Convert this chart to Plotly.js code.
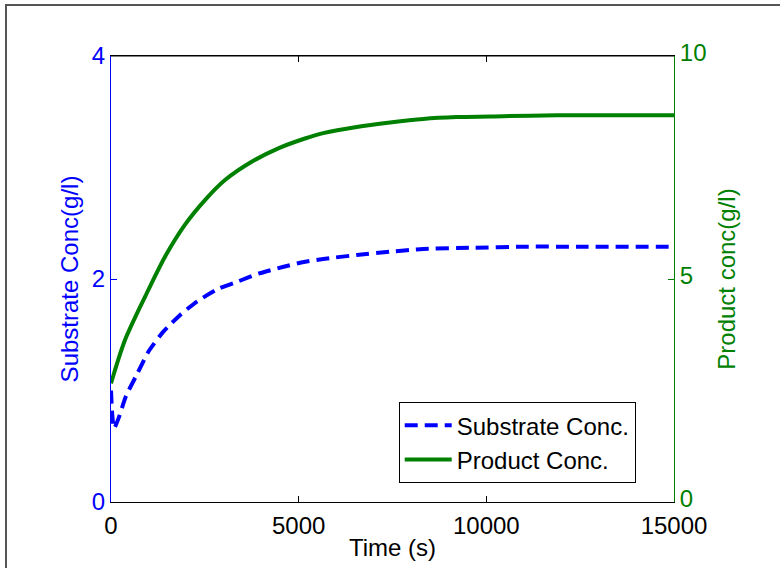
<!DOCTYPE html>
<html>
<head>
<meta charset="utf-8">
<script src="https://cdn.plot.ly/plotly-3.0.1.min.js"></script>
<style>
  html, body { margin: 0; padding: 0; background: #fff; }
  #wrap { position: relative; width: 780px; height: 568px; overflow: hidden; }
  #chart { width: 780px; height: 568px; }
  #frame { position: absolute; left: 5px; top: 4px; width: 780px; height: 570px;
           border-top: 2px solid #555; border-left: 2px solid #555; pointer-events: none; }
</style>
</head>
<body>
<div id="wrap">
  <div id="chart"></div>
  <div id="frame"></div>
</div>
<script>
// Time (s)
const substrateTime = [0, 30, 80, 200, 400, 700, 1000, 1400, 1850, 2300, 2850, 3400, 3950, 4600, 5100, 5656, 6546, 7433, 8320, 9650, 10975, 12500, 15000];
// Substrate concentration (g/l), left axis
const substrateConc = [1.00, 0.80, 0.66, 0.75, 0.95, 1.15, 1.35, 1.53, 1.68, 1.80, 1.91, 1.98, 2.05, 2.11, 2.15, 2.18, 2.215, 2.245, 2.27, 2.28, 2.29, 2.29, 2.29];

const productTime = [0, 373, 906, 1439, 1972, 2504, 3037, 3748, 4457, 5168, 5656, 6546, 7433, 8320, 9210, 10451, 11874, 13500, 15000];
// Product concentration (g/l), right axis
const productConc = [2.66, 3.63, 4.60, 5.50, 6.22, 6.77, 7.22, 7.63, 7.93, 8.15, 8.27, 8.41, 8.51, 8.59, 8.63, 8.65, 8.67, 8.67, 8.67];

const xTicks = [0, 5000, 10000, 15000];
const leftTicks = [0, 2, 4];
const rightTicks = [0, 5, 10];

const FONT = 'Arial, "Liberation Sans", sans-serif';
const FS = 24;

const traces = [
  {
    x: substrateTime, y: substrateConc, name: 'Substrate Conc.',
    type: 'scatter', mode: 'lines', yaxis: 'y',
    line: { color: '#0000ff', width: 4, dash: '13px,7px', shape: 'spline', smoothing: 0.6 }
  },
  {
    x: productTime, y: productConc, name: 'Product Conc.',
    type: 'scatter', mode: 'lines', yaxis: 'y2',
    line: { color: '#008000', width: 4, shape: 'spline', smoothing: 0.8 }
  }
];

const layout = {
  width: 780, height: 568,
  margin: { l: 111, r: 106, t: 56, b: 66 },
  paper_bgcolor: '#ffffff', plot_bgcolor: '#ffffff',
  font: { family: FONT, size: FS, color: '#000' },
  showlegend: true,
  legend: {
    x: 0.932, y: 0.042, xanchor: 'right', yanchor: 'bottom',
    bordercolor: '#000', borderwidth: 1, bgcolor: '#fff',
    font: { family: FONT, size: FS, color: '#000' },
    itemwidth: 47, tracegroupgap: 0
  },
  xaxis: {
    range: [0, 15000], tickvals: xTicks, ticktext: xTicks.map(String),
    showgrid: false, zeroline: false,
    showline: true, linecolor: '#000', linewidth: 1, mirror: 'ticks',
    ticks: 'inside', ticklen: 6, tickcolor: '#000',
    ticklabelstandoff: 2,
    tickfont: { family: FONT, size: FS, color: '#000' },
    title: { text: 'Time (s)', font: { family: FONT, size: FS, color: '#000' }, standoff: 1 }
  },
  yaxis: {
    range: [0, 4], tickvals: leftTicks, ticktext: leftTicks.map(String),
    showgrid: false, zeroline: false,
    showline: true, linecolor: '#0000ff', linewidth: 1,
    ticks: 'inside', ticklen: 6, tickcolor: '#0000ff',
    tickfont: { family: FONT, size: FS, color: '#0000ff' },
    title: { text: 'Substrate Conc(g/l)', font: { family: FONT, size: FS, color: '#0000ff' }, standoff: 6 }
  },
  yaxis2: {
    range: [0, 10], tickvals: rightTicks, ticktext: rightTicks.map(String),
    overlaying: 'y', side: 'right',
    showgrid: false, zeroline: false,
    showline: true, linecolor: '#008000', linewidth: 1,
    ticks: 'inside', ticklen: 6, tickcolor: '#008000',
    ticklabelshift: -3,
    tickfont: { family: FONT, size: FS, color: '#008000' },
    title: { text: 'Product conc(g/l)', font: { family: FONT, size: FS, color: '#008000' }, standoff: 12 }
  },
  shapes: [
    { type: 'line', xref: 'paper', yref: 'paper', x0: 0, x1: 1, y0: 1, y1: 1,
      line: { color: '#000', width: 1 }, layer: 'below' }
  ]
};

Plotly.newPlot('chart', traces, layout, { displayModeBar: false, staticPlot: true });
</script>
</body>
</html>
